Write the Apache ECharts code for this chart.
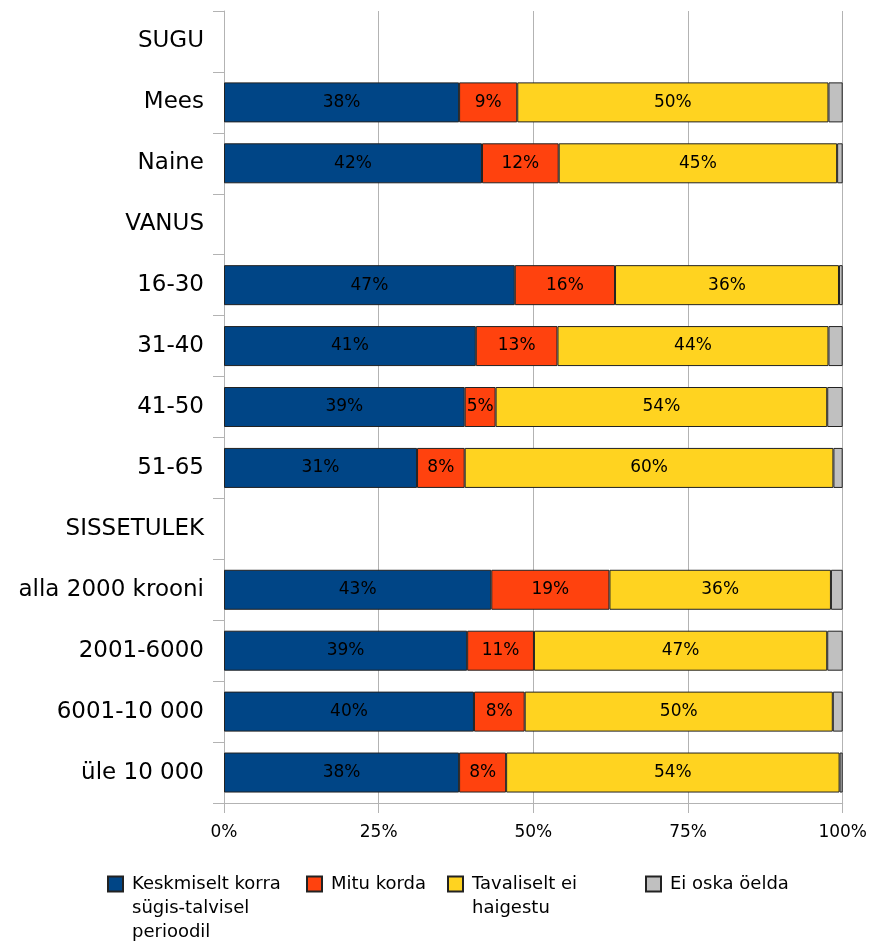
<!DOCTYPE html>
<html>
<head>
<meta charset="utf-8">
<script src="https://cdn.jsdelivr.net/npm/echarts@6/dist/echarts.min.js"></script>
<style>
  html, body { margin: 0; padding: 0; background: #ffffff; }
  #chart { width: 870px; height: 945px; }
</style>
</head>
<body>
<div id="chart"></div>
<script>
// Row labels, top to bottom; group headings carry no values
const categories = ['SUGU', 'Mees', 'Naine', 'VANUS', '16-30', '31-40', '41-50', '51-65',
  'SISSETULEK', 'alla 2000 krooni', '2001-6000', '6001-10 000', 'üle 10 000'];

// Shares in percent per row ('-' = heading row without bar)
const keskmiselt = ['-', 38.0, 41.7, '-', 47.0, 40.7, 38.9, 31.2, '-', 43.2, 39.3, 40.4, 38.0];
const mituKorda  = ['-', 9.4, 12.4, '-', 16.2, 13.2, 5.0, 7.7, '-', 19.1, 10.8, 8.2, 7.6];
const tavaliselt = ['-', 50.3, 45.0, '-', 36.2, 43.8, 53.6, 59.6, '-', 35.8, 47.4, 49.8, 53.9];
const eiOska     = ['-', 2.3, 0.9, '-', 0.6, 2.3, 2.5, 1.5, '-', 1.9, 2.5, 1.6, 0.5];

const seriesNames = [
  'Keskmiselt korra\nsügis-talvisel\nperioodil',
  'Mitu korda',
  'Tavaliselt ei\nhaigestu',
  'Ei oska öelda'
];
const seriesData = [keskmiselt, mituKorda, tavaliselt, eiOska];
const seriesColors = ['#004586', '#ff420e', '#ffd320', '#c0c0c0'];
const showLabel = [true, true, true, false];

const xTicks = [0, 25, 50, 75, 100];

const FONT = 'DejaVu Sans';
const GRID_COLOR = '#b3b3b3';

const series = seriesNames.map((name, i) => ({
  name: name,
  type: 'bar',
  stack: 'total',
  barWidth: 40,
  data: seriesData[i],
  itemStyle: { color: seriesColors[i], borderColor: '#222222', borderWidth: 1 },
  label: {
    show: showLabel[i],
    position: 'inside',
    color: '#000000',
    fontFamily: FONT,
    fontSize: 17,
    formatter: p => Math.round(p.value) + '%'
  },
  emphasis: { disabled: true }
}));

// One legend block per entry; wrapped names are padded with leading blank
// lines so that their first line sits level with the icon
const LH = 24;
const ICON_CY = 884;
const legendLeft = [107, 306, 447, 645];
const legends = seriesNames.map((name, i) => {
  const n = name.split('\n').length;
  return {
    left: legendLeft[i],
    top: ICON_CY - (2 * n - 1) * LH / 2,
    padding: 0,
    orient: 'horizontal',
    itemWidth: 15,
    itemHeight: 15,
    icon: 'rect',
    selectedMode: false,
    formatter: nm => '\n'.repeat(n - 1) + nm,
    data: [{
      name: name,
      textStyle: {
        fontFamily: FONT,
        fontSize: 18,
        color: '#000000',
        lineHeight: LH,
        padding: [0, 0, 0, 4]
      }
    }]
  };
});

const chart = echarts.init(document.getElementById('chart'), null, { renderer: 'canvas' });
chart.setOption({
  animation: false,
  backgroundColor: '#ffffff',
  grid: { left: 224, right: 25, top: 11, bottom: 142, containLabel: false },
  legend: legends,
  xAxis: {
    type: 'value',
    min: xTicks[0],
    max: xTicks[xTicks.length - 1],
    interval: xTicks[1] - xTicks[0],
    axisLine: { show: true, lineStyle: { color: GRID_COLOR, width: 1 } },
    axisTick: { show: true, length: 10, lineStyle: { color: GRID_COLOR } },
    axisLabel: {
      margin: 21,
      color: '#000000',
      fontFamily: FONT,
      fontSize: 17,
      formatter: v => v + '%'
    },
    splitLine: { show: true, lineStyle: { color: GRID_COLOR, width: 1 } }
  },
  yAxis: {
    type: 'category',
    data: categories,
    inverse: true,
    axisLine: { show: true, lineStyle: { color: GRID_COLOR, width: 1 } },
    axisTick: { show: true, length: 11, lineStyle: { color: GRID_COLOR } },
    axisLabel: {
      margin: 20,
      color: '#000000',
      fontFamily: FONT,
      fontSize: 23
    },
    splitLine: { show: false }
  },
  series: series
});
</script>
</body>
</html>
